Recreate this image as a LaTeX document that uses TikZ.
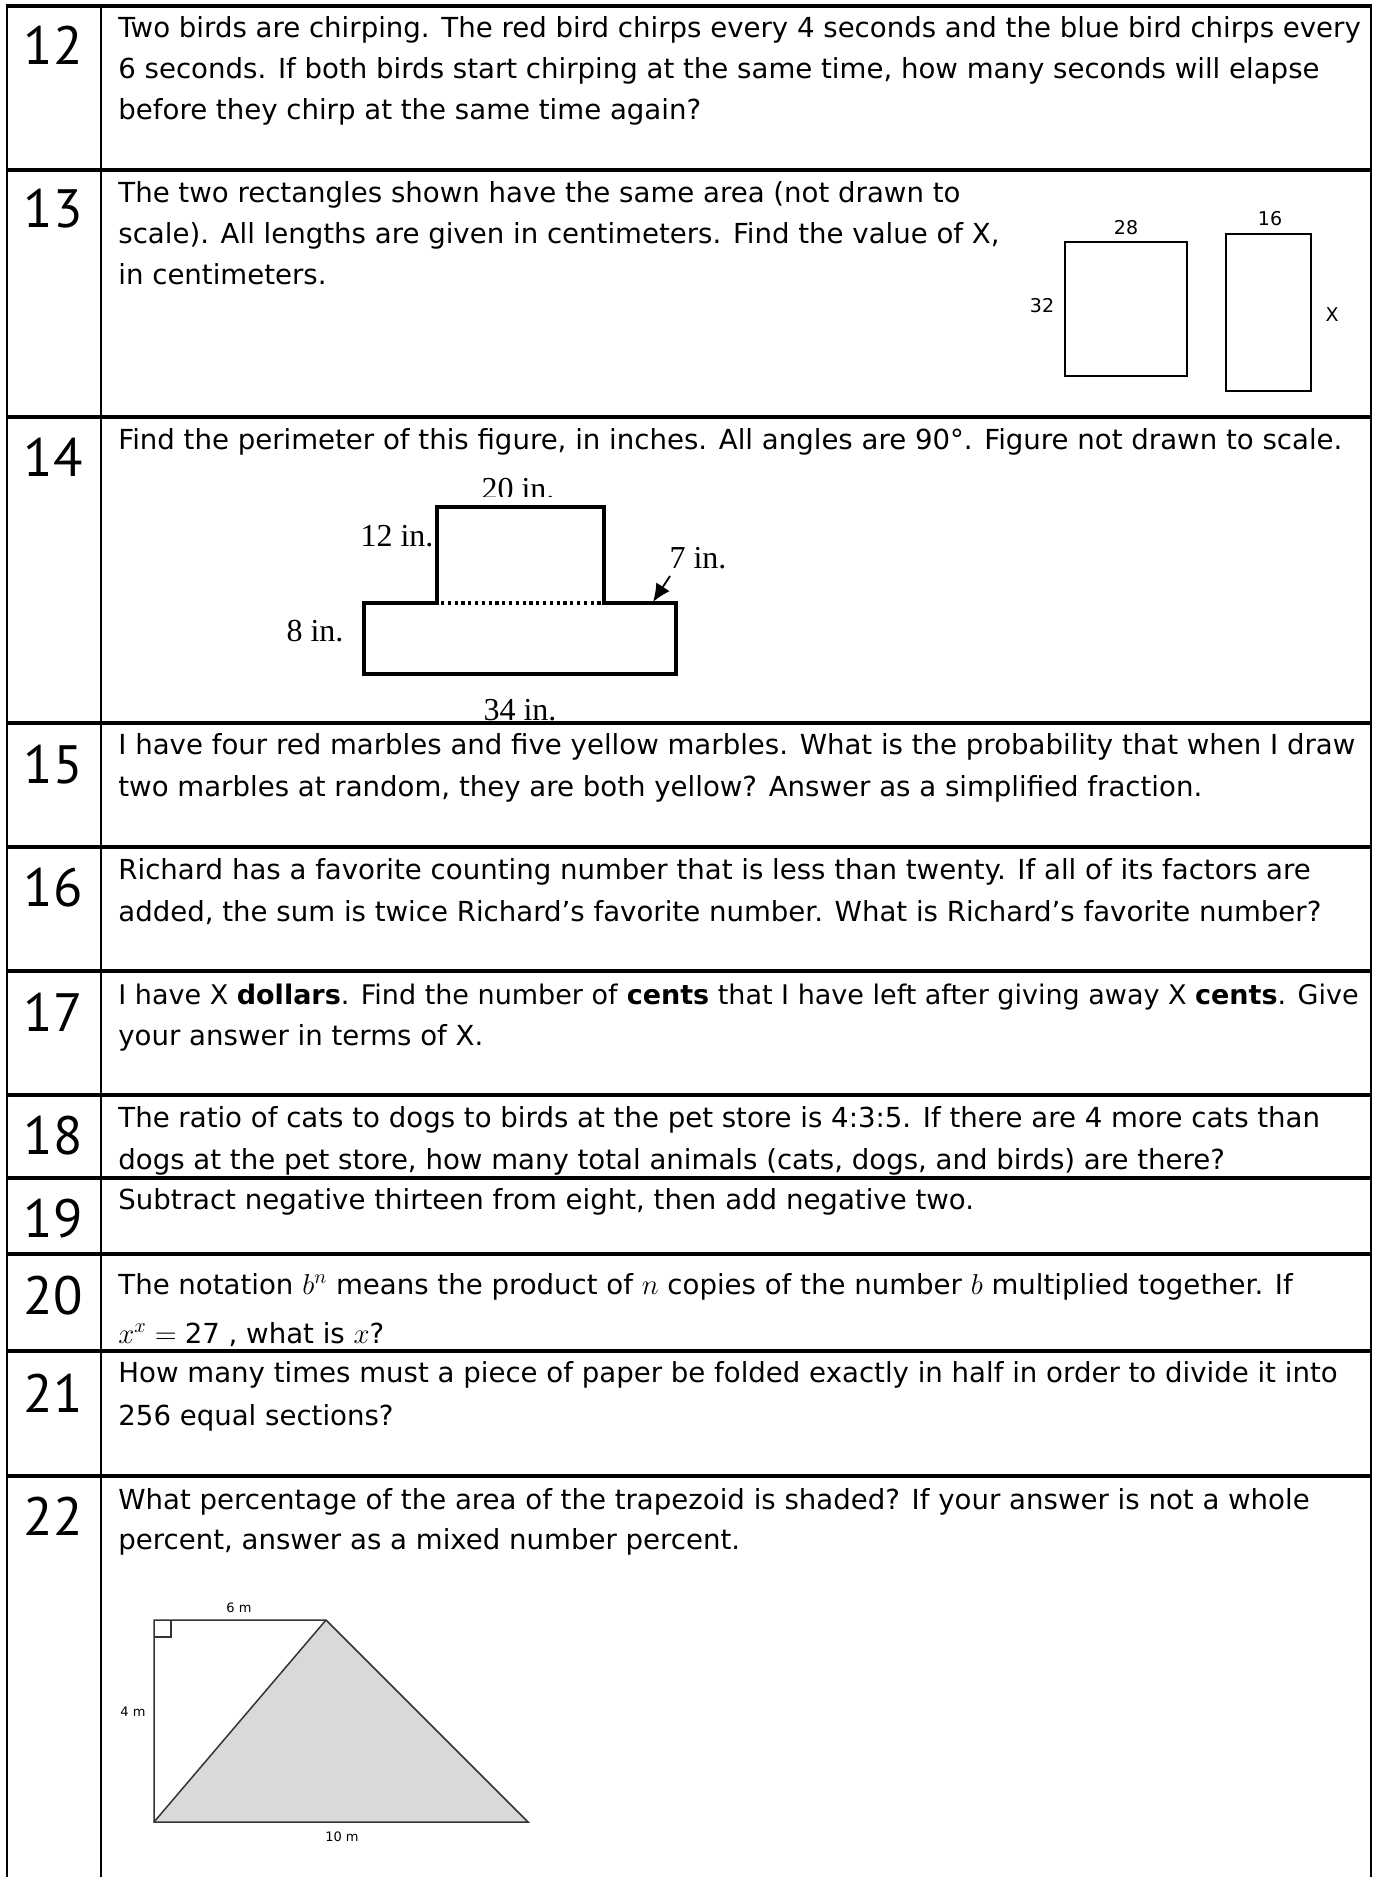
\documentclass[tikz,border=0pt]{standalone}
\usepackage{fontspec}
\setmainfont{DejaVu Sans}
\newfontfamily\numfont{PT Sans}
\newfontfamily\figfont{Liberation Serif}
\usetikzlibrary{arrows.meta}

\begin{document}
\begin{tikzpicture}[x=0.5pt, y=-0.5pt,
    qnum/.style={font=\numfont\fontsize{27}{27}\selectfont, inner sep=0, anchor=base},
    qline/.style={font=\fontsize{13.8}{16}\selectfont, inner sep=0, anchor=base west},
    inlabel/.style={font=\figfont\fontsize{16}{16}\selectfont, inner sep=0, anchor=base},
    cmlabel/.style={font=\fontsize{9.5}{10}\selectfont, inner sep=0},
    mlabel/.style={font=\fontsize{6.5}{7}\selectfont, inner sep=0},
    hrule/.style={line width=1.6pt},
    vrule/.style={line width=1.1pt},
    thinbox/.style={line width=0.75pt},
    outline/.style={line width=1.65pt, line join=miter}]

  \useasboundingbox (0,0) rectangle (1374,1877);

  % table rules
  \foreach \y in {6,170,417,723,847,971,1095,1178,1254,1351,1476}
    \draw[hrule] (6,\y) -- (1372,\y);
  \foreach \x in {7,101,1371}
    \draw[vrule] (\x,6) -- (\x,1877);

  % question numbers
  \foreach \n/\y in {12/65,13/228,14/476,15/783,16/906,17/1031,18/1154,19/1237,20/1314,21/1412,22/1535}
    \node[qnum] (n\n) at (53,\y) {\n};

  % 12
  \node[qline] (t12a) at (118,38) {Two birds are chirping. The red bird chirps every 4 seconds and the blue bird chirps every};
  \node[qline] (t12b) at (118,79) {6 seconds. If both birds start chirping at the same time, how many seconds will elapse};
  \node[qline] (t12c) at (118,120) {before they chirp at the same time again?};

  % 13
  \node[qline] (t13a) at (118,203) {The two rectangles shown have the same area (not drawn to};
  \node[qline] (t13b) at (118,244) {scale). All lengths are given in centimeters. Find the value of X,};
  \node[qline] (t13c) at (118,285) {in centimeters.};
  \draw[thinbox] (1065,242) rectangle (1187,376);
  \draw[thinbox] (1226,234) rectangle (1311,391);
  \node[cmlabel] (w28) at (1126,228) {28};
  \node[cmlabel] (h32) at (1042,306) {32};
  \node[cmlabel] (w16) at (1270,219) {16};
  \node[cmlabel] (hX) at (1332,315) {X};

  % 14
  \node[qline] (t14a) at (118,450) {Find the perimeter of this figure, in inches. All angles are 90°. Figure not drawn to scale.};
  \draw[outline] (364,603) -- (437,603) -- (437,507) -- (604,507) -- (604,603)
    -- (676,603) -- (676,674) -- (364,674) -- cycle;
  \draw[line width=1.6pt, dash pattern=on 1.6pt off 1.8pt] (441,603) -- (601,603);
  \begin{scope}
    \clip (300,440) rectangle (760,496);
    \node[inlabel] (l20) at (518,499) {20 in.};
  \end{scope}
  \node[inlabel] (l12) at (397,546) {12 in.};
  \node[inlabel] (l7) at (698,568) {7 in.};
  \node[inlabel] (l8) at (315,641) {8 in.};
  \begin{scope}
    \clip (300,680) rectangle (760,721);
    \node[inlabel] (l34) at (520,720) {34 in.};
  \end{scope}
  \coordinate (tail7) at (670,576);
  \coordinate (tip7) at (653,602);
  \draw[line width=0.9pt, -{Latex[length=9pt, width=8pt]}] (tail7) -- (tip7);

  % 15
  \node[qline] (t15a) at (118,754) {I have four red marbles and five yellow marbles. What is the probability that when I draw};
  \node[qline] (t15b) at (118,796) {two marbles at random, they are both yellow? Answer as a simplified fraction.};

  % 16
  \node[qline] (t16a) at (118,879) {Richard has a favorite counting number that is less than twenty. If all of its factors are};
  \node[qline] (t16b) at (118,921) {added, the sum is twice Richard’s favorite number. What is Richard’s favorite number?};

  % 17
  \node[qline, font=\fontsize{13.5}{16}\selectfont] (t17a) at (118,1004) {I have X \textbf{dollars}. Find the number of \textbf{cents} that I have left after giving away X \textbf{cents}. Give};
  \node[qline] (t17b) at (118,1045) {your answer in terms of X.};

  % 18
  \node[qline] (t18a) at (118,1127) {The ratio of cats to dogs to birds at the pet store is 4:3:5. If there are 4 more cats than};
  \node[qline] (t18b) at (118,1169) {dogs at the pet store, how many total animals (cats, dogs, and birds) are there?};

  % 19
  \node[qline] (t19a) at (118,1209) {Subtract negative thirteen from eight, then add negative two.};

  % 20
  \node[qline] (t20a) at (118,1294) {The notation \(b^{n}\) means the product of \(n\) copies of the number \(b\) multiplied together. If};
  \node[qline] (t20b) at (118,1343) {\(x^{x}={}\)27 , what is \(x\)?};

  % 21
  \node[qline] (t21a) at (118,1382) {How many times must a piece of paper be folded exactly in half in order to divide it into};
  \node[qline] (t21b) at (118,1425) {256 equal sections?};

  % 22
  \node[qline] (t22a) at (118,1509) {What percentage of the area of the trapezoid is shaded? If your answer is not a whole};
  \node[qline] (t22b) at (118,1549) {percent, answer as a mixed number percent.};
  \fill[black!15] (154,1822) -- (326,1620) -- (528,1822) -- cycle;
  \draw[thinbox, black!80] (154,1620) -- (326,1620) -- (528,1822) -- (154,1822) -- cycle;
  \draw[thinbox, black!80] (326,1620) -- (154,1822);
  \draw[thinbox, black!80] (154,1637) -- (171,1637) -- (171,1620);
  \node[mlabel] (top6) at (239,1608) {6 m};
  \node[mlabel] (side4) at (133,1712) {4 m};
  \node[mlabel] (base10) at (342,1837) {10 m};
\end{tikzpicture}
\end{document}
